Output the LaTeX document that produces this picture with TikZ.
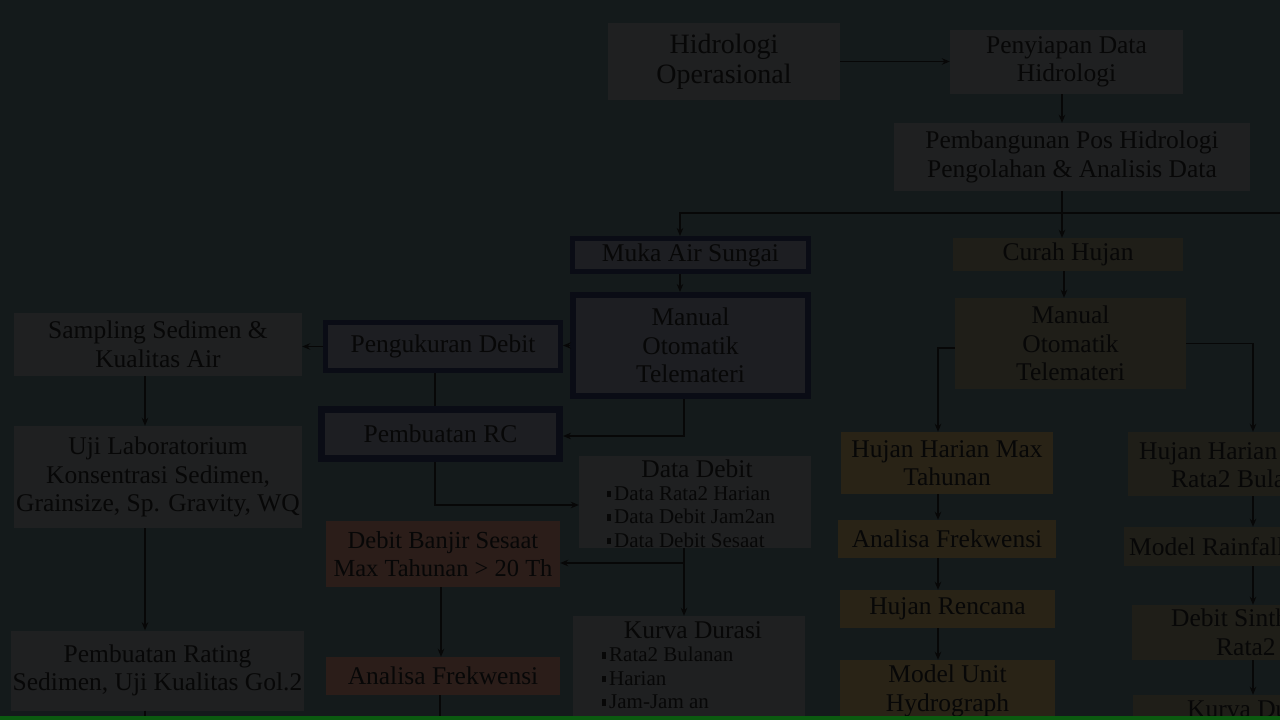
\documentclass[tikz,border=0pt]{standalone}
\usepackage{fontspec}
\setmainfont{Liberation Serif}
\usetikzlibrary{arrows.meta,calc}
\definecolor{bgc}{HTML}{141A1B}
\definecolor{gbox}{HTML}{1F2021}
\definecolor{obox}{HTML}{292316}
\definecolor{ybox}{HTML}{1F1E18}
\definecolor{rbox}{HTML}{2B1D19}
\definecolor{mbox}{HTML}{1D1E22}
\definecolor{edgec}{HTML}{0A0C15}
\definecolor{inkc}{HTML}{070707}
\definecolor{barc}{HTML}{0B5A10}
\newcommand{\msz}{\fontsize{25.5pt}{28.5pt}\selectfont}
\newcommand{\bsz}{\fontsize{21pt}{23.5pt}\selectfont}
\newcommand{\blt}{\rule[3pt]{3.5pt}{6.5pt}\,}
\tikzset{
  box/.style={fill=gbox, inner sep=0pt, align=center, font=\msz, text=inkc},
  tbox/.style={box, draw=edgec, fill=mbox},
  txt/.style={inner sep=0pt, text=inkc, font=\msz},
  arr/.style={draw=inkc, line width=1.3pt, -{Stealth[length=8pt,width=6.5pt]}},
  ln/.style={draw=inkc, line width=1.3pt},
}
\begin{document}
\begin{tikzpicture}[x=1pt,y=-1pt]
\useasboundingbox (0,0) rectangle (1280,720);
\clip (0,0) rectangle (1280,720);
\fill[bgc] (0,0) rectangle (1280,720);

% top
\node[box, minimum width=232, minimum height=77, font=\fontsize{28pt}{30pt}\selectfont] (hidro) at (724,61.5) {Hidrologi\\Operasional};
\node[box, minimum width=233, minimum height=64] (penyiapan) at (1066.5,62) {Penyiapan Data\\Hidrologi};
\node[box, minimum width=356, minimum height=68] (pembangunan) at (1072,157) {Pembangunan Pos Hidrologi\\Pengolahan \& Analisis Data};

% left branch
\node[tbox, line width=5pt, minimum width=236, minimum height=33] (muka) at (690.5,255) {Muka Air Sungai};
\node[tbox, line width=6pt, minimum width=235, minimum height=101] (manualL) at (690.5,345.5) {Manual\\Otomatik\\Telemateri};
\node[tbox, line width=5pt, minimum width=235, minimum height=48] (pengukuran) at (443,346.5) {Pengukuran Debit};
\node[box, minimum width=288, minimum height=63] (sampling) at (158,344.5) {Sampling Sedimen \&\\Kualitas Air};
\node[tbox, line width=7pt, minimum width=238, minimum height=49] (rc) at (440.5,434) {Pembuatan RC};
\node[box, minimum width=288, minimum height=102] (uji) at (158,477) {Uji Laboratorium\\Konsentrasi Sedimen,\\Grainsize, Sp. Gravity, WQ};
\node[box, minimum width=293, minimum height=80] (rating) at (157.5,670.5) {Pembuatan Rating\\Sedimen, Uji Kualitas Gol.2};

\node[box, minimum width=232, minimum height=92] (ddbox) at (695,502) {};
\node[txt] (ddtitle) at (697,469) {Data Debit};
\node[txt, anchor=north west, align=left, font=\bsz] (ddlist) at (607,486) {\blt Data Rata2 Harian\\\blt Data Debit Jam2an\\\blt Data Debit Sesaat};

\node[box, fill=rbox, minimum width=234, minimum height=66, font=\fontsize{24.5pt}{28pt}\selectfont] (banjir) at (443,554) {Debit Banjir Sesaat\\Max Tahunan > 20 Th};
\node[box, fill=rbox, minimum width=234, minimum height=38] (analisaL) at (443,676) {Analisa Frekwensi};

\node[box, minimum width=232, minimum height=114] (kurvaL) at (689,673) {};
\node[txt] (kltitle) at (693,630) {Kurva Durasi};
\node[txt, anchor=north west, align=left, font=\bsz] (kllist) at (602,647) {\blt Rata2 Bulanan\\\blt Harian\\\blt Jam-Jam an};

% right branch
\node[box, fill=ybox, minimum width=230, minimum height=33] (curah) at (1068,254.5) {Curah Hujan};
\node[box, fill=ybox, minimum width=231, minimum height=91] (manualR) at (1070.5,343.5) {Manual\\Otomatik\\Telemateri};
\node[box, fill=obox, minimum width=212, minimum height=62] (hmax) at (947,463) {Hujan Harian Max\\Tahunan};
\node[box, fill=obox, minimum width=218, minimum height=38] (analisaR) at (947,539) {Analisa Frekwensi};
\node[box, fill=obox, minimum width=215, minimum height=38] (rencana) at (947.5,609) {Hujan Rencana};
\node[box, fill=obox, minimum width=215, minimum height=62] (unit) at (947.5,691) {Model Unit\\Hydrograph};

\node[box, fill=ybox, minimum width=250, minimum height=64] (hharian) at (1253,464) {};
\node[txt, anchor=west, align=left] (hhtext) at (1139,465) {Hujan Harian\\\hspace*{32pt}Rata2 Bulanan};
\node[box, fill=ybox, minimum width=258, minimum height=39] (rainfall) at (1253,546.5) {};
\node[txt, anchor=west] (rftext) at (1129,546.5) {Model Rainfall};
\node[box, fill=ybox, minimum width=242, minimum height=55] (sinth) at (1253,632.5) {};
\node[txt, anchor=west, align=left] (sntext) at (1171,632.5) {Debit Sinthetis\\\hspace*{45pt}Rata2 Bulanan};
\node[box, fill=ybox, minimum width=240, minimum height=40] (kurvaR) at (1253,715) {};
\node[txt, anchor=west] (krtext) at (1187,709) {Kurva Durasi};

% connectors top
\draw[arr] (hidro.east) -- (hidro.east -| penyiapan.west);
\draw[arr] ([xshift=-4.5pt]penyiapan.south) -- ([xshift=-4.5pt]penyiapan.south |- pembangunan.north);
\draw[arr] ([xshift=-10pt]pembangunan.south) -- ([xshift=-10pt]pembangunan.south |- curah.north);
\coordinate (jn) at (1062,213);
\coordinate (offr) at (1290,213);
\draw[arr] (offr) -- ([xshift=-10.5pt]muka.north |- jn) -- ([xshift=-10.5pt]muka.north);

% left connectors
\draw[arr] ([xshift=-10.5pt]muka.south) -- ([xshift=-10.5pt]muka.south |- manualL.north);
\draw[arr] (manualL.west) -- (manualL.west -| pengukuran.east);
\draw[arr] (pengukuran.west) -- (pengukuran.west -| sampling.east);
\draw[ln] ([xshift=-8pt]pengukuran.south) -- ([xshift=-8pt]pengukuran.south |- rc.north);
\draw[arr] ([xshift=-6.5pt]manualL.south) |- ([yshift=-2pt]rc.east);
\draw[arr] ([xshift=-5.5pt]rc.south) |- ([yshift=-3pt]ddbox.west);
\draw[arr] ([xshift=-11pt]ddbox.south) -- ([xshift=-11pt]ddbox.south |- kurvaL.north);
\coordinate (br) at (684,563);
\draw[arr] (br) -- (br -| banjir.east);
\draw[arr] ([xshift=-2pt]banjir.south) -- ([xshift=-2pt]banjir.south |- analisaL.north);
\coordinate (offa) at (440,725);
\draw[ln] (analisaL.south -| offa) -- (offa);
\draw[arr] ([xshift=-13pt]sampling.south) -- ([xshift=-13pt]sampling.south |- uji.north);
\draw[arr] ([xshift=-13pt]uji.south) -- ([xshift=-13pt]uji.south |- rating.north);
\coordinate (offb) at (145,725);
\draw[ln] (rating.south -| offb) -- (offb);

% right connectors
\draw[arr] ([xshift=-4pt]curah.south) -- ([xshift=-4pt]curah.south |- manualR.north);
\draw[arr] ([yshift=-4.5pt]manualR.west) -| ([xshift=-9pt]hmax.north);
\draw[arr] (manualR.east) -| (hharian.north);
\draw[arr] ([xshift=-9pt]hmax.south) -- ([xshift=-9pt]hmax.south |- analisaR.north);
\draw[arr] ([xshift=-9pt]analisaR.south) -- ([xshift=-9pt]analisaR.south |- rencana.north);
\draw[arr] ([xshift=-9.5pt]rencana.south) -- ([xshift=-9.5pt]rencana.south |- unit.north);
\draw[arr] (hharian.south) -- (rainfall.north);
\draw[arr] (rainfall.south) -- (sinth.north);
\draw[arr] (sinth.south) -- (kurvaR.north);

% bottom bar
\fill[barc] (0,716) rectangle (1280,720);
\end{tikzpicture}
\end{document}
